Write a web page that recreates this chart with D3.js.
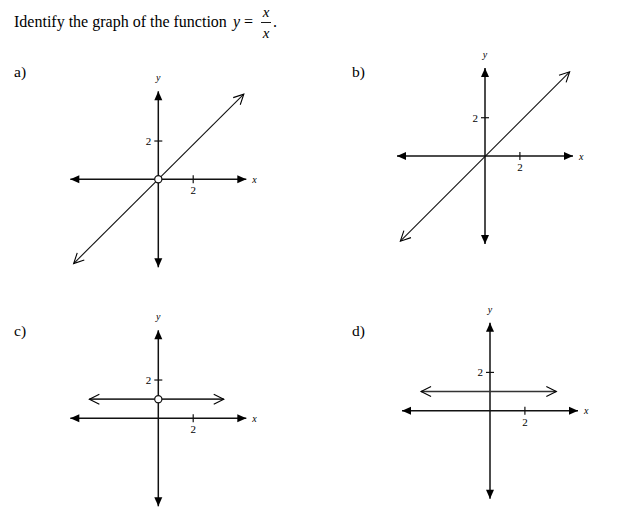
<!DOCTYPE html>
<html>
<head>
<meta charset="utf-8">
<script src="https://cdn.jsdelivr.net/npm/d3@7"></script>
<style>
  html, body { margin: 0; padding: 0; background: #fff; }
  svg { display: block; }
</style>
</head>
<body>
<svg id="chart" width="644" height="521"></svg>
<script>
// ---- data ----
const panelLabels = ["a)", "b)", "c)", "d)"];
const xTickValues = [2];
const yTickValues = [2];
const xTickLabels = ["2"];
const yTickLabels = ["2"];
const axisXExtent = [-5.1, 5.1];
const axisYExtent = [-4.65, 4.65];
// graphs: two endpoints each (arrowed both ends)
const lineA = [[-4.85, -4.4], [4.9, 4.45]];
const lineB = [[-4.85, -4.45], [4.85, 4.4]];
const lineC = [[-3.95, 1], [3.75, 1]];
const lineD = [[-3.95, 1], [3.8, 1]];
const holeA = [[0, 0]];
const holeB = [];
const holeC = [[0, 1]];
const holeD = [];

const panelLines = [lineA, lineB, lineC, lineD];
const panelHoles = [holeA, holeB, holeC, holeD];

// ---- layout ----
const origins = [[158.3, 179.3], [485, 156], [158.3, 418.3], [490, 410.7]];
const labelPos = [[14, 77], [352, 77], [14, 336], [352, 336]];

const svg = d3.select("#chart");
const serif = "'Liberation Serif', 'Times New Roman', serif";

// title
const title = svg.append("g").attr("font-family", serif).attr("fill", "#000");
title.append("text").attr("x", 14).attr("y", 27).attr("font-size", 16)
  .text("Identify the graph of the function");
title.append("text").attr("x", 233).attr("y", 27).attr("font-size", 16).attr("font-style", "italic").text("y");
title.append("text").attr("x", 244).attr("y", 27).attr("font-size", 16).text("=");
title.append("text").attr("x", 266).attr("y", 17).attr("font-size", 15).attr("font-style", "italic").attr("text-anchor", "middle").text("x");
title.append("line").attr("x1", 261).attr("x2", 271).attr("y1", 22.5).attr("y2", 22.5).attr("stroke", "#000").attr("stroke-width", 0.9);
title.append("text").attr("x", 266).attr("y", 38).attr("font-size", 15).attr("font-style", "italic").attr("text-anchor", "middle").text("x");
title.append("text").attr("x", 273).attr("y", 27).attr("font-size", 16).text(".");

// markers
const defs = svg.append("defs");
defs.append("marker").attr("id", "axArrow")
  .attr("viewBox", "-10 -5 11 10").attr("refX", 0).attr("refY", 0)
  .attr("markerWidth", 11).attr("markerHeight", 10)
  .attr("markerUnits", "userSpaceOnUse").attr("orient", "auto-start-reverse")
  .append("path").attr("d", "M-9,-4 L0,0 L-9,4 Z").attr("fill", "#000");
defs.append("marker").attr("id", "openArrow")
  .attr("viewBox", "-12 -7 14 14").attr("refX", 0).attr("refY", 0)
  .attr("markerWidth", 14).attr("markerHeight", 14)
  .attr("markerUnits", "userSpaceOnUse").attr("orient", "auto-start-reverse")
  .append("path").attr("d", "M-10,-5 L0,0 L-10,5").attr("fill", "none")
  .attr("stroke", "#000").attr("stroke-width", 1.1);

const x = d3.scaleLinear().domain(axisXExtent).range([-89, 89]);
const y = d3.scaleLinear().domain(axisYExtent).range([89, -89]);

panelLabels.forEach((lab, i) => {
  svg.append("text").attr("x", labelPos[i][0]).attr("y", labelPos[i][1])
    .attr("font-family", serif).attr("font-size", 15.5).attr("fill", "#000").text(lab);

  const g = svg.append("g").attr("transform", `translate(${origins[i][0]},${origins[i][1]})`);

  // x axis
  g.append("line").attr("x1", x(axisXExtent[0]) + 1).attr("x2", x(axisXExtent[1]) - 1)
    .attr("y1", y(0)).attr("y2", y(0))
    .attr("stroke", "#111").attr("stroke-width", 1.5)
    .attr("marker-start", "url(#axArrow)").attr("marker-end", "url(#axArrow)");
  // y axis
  g.append("line").attr("x1", x(0)).attr("x2", x(0))
    .attr("y1", y(axisYExtent[1]) + 1).attr("y2", y(axisYExtent[0]) - 1)
    .attr("stroke", "#111").attr("stroke-width", 1.5)
    .attr("marker-start", "url(#axArrow)").attr("marker-end", "url(#axArrow)");

  // ticks
  xTickValues.forEach((v, k) => {
    g.append("line").attr("x1", x(v)).attr("x2", x(v)).attr("y1", y(0) - 4).attr("y2", y(0) + 4)
      .attr("stroke", "#111").attr("stroke-width", 1.2);
    g.append("text").attr("x", x(v)).attr("y", y(0) + 15).attr("text-anchor", "middle")
      .attr("font-family", serif).attr("font-size", 11).attr("fill", "#000").text(xTickLabels[k]);
  });
  yTickValues.forEach((v, k) => {
    g.append("line").attr("x1", x(0) - 4).attr("x2", x(0) + 4).attr("y1", y(v)).attr("y2", y(v))
      .attr("stroke", "#111").attr("stroke-width", 1.2);
    g.append("text").attr("x", x(0) - 7).attr("y", y(v) + 4).attr("text-anchor", "end")
      .attr("font-family", serif).attr("font-size", 11).attr("fill", "#000").text(yTickLabels[k]);
  });

  // axis names
  g.append("text").attr("x", x(axisXExtent[1]) + 5).attr("y", y(0) + 3.5)
    .attr("font-family", serif).attr("font-size", 10).attr("font-style", "italic").attr("fill", "#000").text("x");
  g.append("text").attr("x", x(0)).attr("y", y(axisYExtent[1]) - 9).attr("text-anchor", "middle")
    .attr("font-family", serif).attr("font-size", 10).attr("font-style", "italic").attr("fill", "#000").text("y");

  // graph line
  const pts = panelLines[i];
  g.append("path").datum(pts)
    .attr("d", d3.line().x(d => x(d[0])).y(d => y(d[1])))
    .attr("fill", "none").attr("stroke", i >= 2 ? "#333" : "#111").attr("stroke-width", i >= 2 ? 1.6 : 1.1)
    .attr("marker-start", "url(#openArrow)").attr("marker-end", "url(#openArrow)");

  // holes
  g.selectAll("circle.hole").data(panelHoles[i]).join("circle").attr("class", "hole")
    .attr("cx", d => x(d[0])).attr("cy", d => y(d[1])).attr("r", 3.6)
    .attr("fill", "#fff").attr("stroke", "#111").attr("stroke-width", 1.2);
});
</script>
</body>
</html>
